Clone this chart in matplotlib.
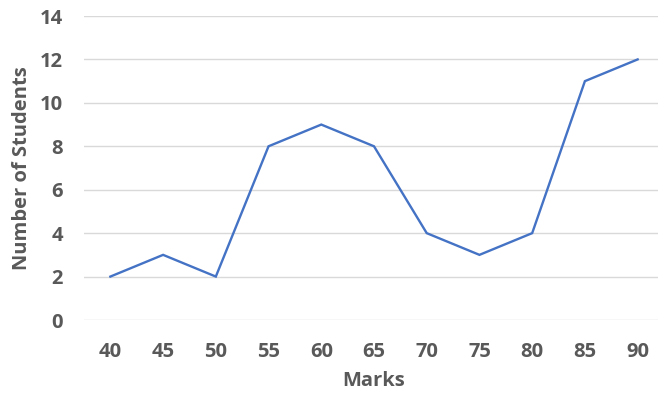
import matplotlib
matplotlib.use("Agg")
import matplotlib.pyplot as plt

# marks and how many students got each one
marks = [40, 45, 50, 55, 60, 65, 70, 75, 80, 85, 90]
students = [2, 3, 2, 8, 9, 8, 4, 3, 4, 11, 12]

plt.rcParams['font.family'] = ['Open Sans', 'DejaVu Sans']
grigio = '#595959'

fig = plt.figure(figsize=(6.58, 3.96), dpi=100)
ax = fig.add_axes([84 / 658, 76 / 396, 580 / 658, 304 / 396])

pos = list(range(len(marks)))
ax.plot(pos, students, color='#4472C4', linewidth=1.7, solid_joinstyle='miter')

ax.set_xlim(-0.5, len(marks) - 0.5)
ax.set_ylim(0, 14)
ax.set_yticks(range(0, 15, 2))
ax.set_xticks(pos)
ax.set_xticklabels([str(m) for m in marks])

ax.grid(axis='y', color='#D9D9D9', linewidth=1)
ax.set_axisbelow(True)
for s in ax.spines.values():
    s.set_visible(False)
ax.tick_params(length=0, labelsize=14.5, labelcolor=grigio, pad=15)
ax.tick_params(axis='x', pad=16)
for lab in ax.get_xticklabels() + ax.get_yticklabels():
    lab.set_fontweight('bold')

ax.set_xlabel("Marks", fontsize=14.5, fontweight='bold', color=grigio, labelpad=6)
ax.set_ylabel("Number of Students", fontsize=14.5, fontweight='bold', color=grigio, labelpad=6)

fig.savefig("out.png", dpi=100)
